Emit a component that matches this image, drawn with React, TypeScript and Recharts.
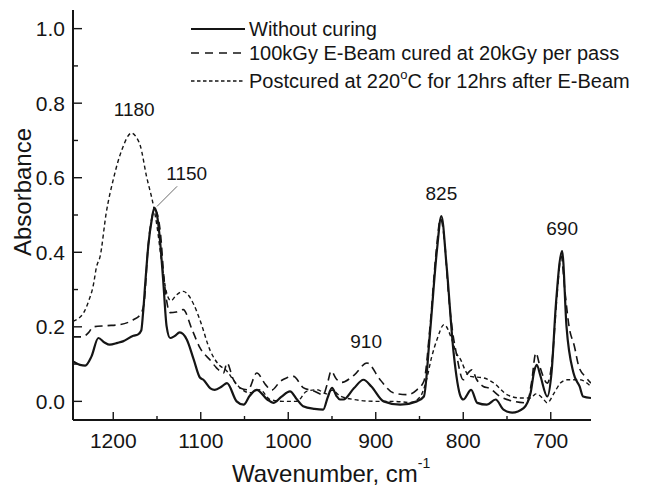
import React from 'react';
import { LineChart, Line, XAxis, YAxis, Legend, ReferenceDot, ReferenceLine, Label } from 'recharts';

// ---- Data ----
const seriesNames = [
  'Without curing',
  '100kGy E-Beam cured at 20kGy per pass',
  'Postcured at 220',
];

const withoutCuringWave = [1246, 1238, 1232, 1225, 1217, 1210, 1204, 1195, 1189, 1177, 1172, 1168, 1166, 1163, 1160, 1156, 1153, 1150, 1147, 1143, 1139, 1135, 1130, 1124, 1116, 1108, 1101, 1097, 1089, 1084, 1076, 1070, 1059, 1051, 1044, 1036, 1024, 1017, 1008, 998, 990, 983, 970, 960, 955, 950, 945, 941, 937, 925, 914, 905, 891, 872, 853, 845, 838, 830, 825, 819, 811, 803, 800, 791, 784, 773, 763, 754, 744, 731, 723, 719, 716, 712, 704, 699, 694, 687, 682, 674, 667, 663, 654];
const withoutCuringAbs = [0.107, 0.098, 0.096, 0.12, 0.17, 0.158, 0.152, 0.157, 0.161, 0.176, 0.179, 0.19, 0.235, 0.33, 0.416, 0.488, 0.519, 0.5, 0.443, 0.327, 0.201, 0.17, 0.175, 0.185, 0.166, 0.112, 0.064, 0.058, 0.035, 0.031, 0.04, 0.049, 0.0, -0.009, 0.015, 0.031, 0.005, -0.004, 0.012, 0.027, 0.005, -0.013, -0.02, -0.022, 0.01, 0.036, 0.015, 0.005, 0.005, 0.035, 0.058, 0.04, 0.0, -0.009, 0.0, 0.013, 0.184, 0.407, 0.497, 0.362, 0.13, 0.013, 0.005, 0.031, -0.004, -0.009, 0.005, -0.022, -0.03, -0.018, 0.023, 0.08, 0.098, 0.07, 0.013, 0.08, 0.264, 0.403, 0.201, 0.076, 0.04, 0.013, 0.009];

const eBeamWave = [1246, 1235, 1228, 1223, 1208, 1192, 1177, 1169, 1165, 1160, 1156, 1153, 1150, 1146, 1142, 1139, 1135, 1128, 1120, 1110, 1101, 1089, 1082, 1074, 1070, 1063, 1055, 1046, 1036, 1026, 1019, 1009, 1002, 994, 983, 971, 960, 955, 951, 945, 939, 925, 910, 895, 880, 864, 853, 845, 838, 831, 826, 821, 817, 813, 808, 800, 795, 790, 785, 777, 770, 758, 742, 727, 722, 717, 712, 704, 698, 693, 688, 684, 679, 673, 668, 660, 654];
const eBeamAbs = [0.173, 0.173, 0.185, 0.2, 0.203, 0.206, 0.219, 0.233, 0.26, 0.42, 0.49, 0.515, 0.505, 0.45, 0.33, 0.27, 0.238, 0.24, 0.246, 0.193, 0.144, 0.11, 0.09, 0.076, 0.103, 0.06, 0.036, 0.031, 0.076, 0.045, 0.03, 0.054, 0.063, 0.067, 0.037, 0.028, 0.018, 0.05, 0.081, 0.06, 0.051, 0.07, 0.103, 0.058, 0.023, 0.018, 0.031, 0.054, 0.2, 0.4, 0.49, 0.42, 0.291, 0.201, 0.13, 0.058, 0.075, 0.085, 0.06, 0.04, 0.035, 0.013, 0.0, -0.004, 0.05, 0.13, 0.09, 0.049, 0.12, 0.28, 0.39, 0.3, 0.2, 0.148, 0.094, 0.065, 0.049];

const postcuredWave = [1246, 1240, 1234, 1228, 1223, 1219, 1215, 1208, 1200, 1190, 1179, 1174, 1169, 1162, 1154, 1150, 1145, 1139, 1134, 1128, 1120, 1116, 1108, 1101, 1089, 1080, 1070, 1063, 1055, 1044, 1032, 1021, 1006, 990, 979, 967, 956, 950, 941, 925, 900, 880, 860, 849, 842, 836, 830, 822, 813, 808, 803, 797, 792, 777, 765, 750, 735, 723, 717, 714, 708, 704, 696, 689, 681, 667, 654];
const postcuredAbs = [0.215, 0.222, 0.237, 0.27, 0.309, 0.362, 0.389, 0.506, 0.595, 0.676, 0.72, 0.71, 0.685, 0.604, 0.524, 0.47, 0.38, 0.291, 0.27, 0.285, 0.295, 0.29, 0.26, 0.219, 0.135, 0.1, 0.081, 0.058, 0.036, 0.023, 0.031, 0.005, 0.0, 0.0, 0.027, 0.031, 0.02, 0.03, 0.015, 0.005, 0.0, 0.0, -0.003, 0.013, 0.058, 0.12, 0.166, 0.206, 0.166, 0.13, 0.112, 0.08, 0.067, 0.063, 0.049, 0.018, 0.009, 0.009, 0.02, 0.018, 0.005, -0.004, 0.023, 0.049, 0.058, 0.058, 0.04];

const peakLabels = ['1180', '1150', '910', '825', '690'];
const peakLabelWave = [1176, 1116, 911, 825, 687];
const peakLabelAbs = [0.783, 0.613, 0.162, 0.559, 0.465];

const xTicks = [1200, 1150, 1100, 1050, 1000, 950, 900, 850, 800, 750, 700];
const yTicks = [0, 0.1, 0.2, 0.3, 0.4, 0.5, 0.6, 0.7, 0.8, 0.9, 1.0];

const toPoints = (w: number[], a: number[]) => w.map((x, i) => ({ w: x, a: a[i] }));
const withoutCuringData = toPoints(withoutCuringWave, withoutCuringAbs);
const eBeamData = toPoints(eBeamWave, eBeamAbs);
const postcuredData = toPoints(postcuredWave, postcuredAbs);

const INK = '#151515';
const FONT = 'Liberation Sans, Arial, sans-serif';

const XTick = (props: any) => {
  const { x, y, payload } = props;
  const v = payload.value;
  const major = v % 100 === 0;
  return (
    <g>
      <line x1={x} x2={x} y1={y} y2={y - (major ? 8 : 4)} stroke={INK} strokeWidth={1.4} />
      {major && (
        <text x={x} y={y + 28} textAnchor="middle" fontSize={21} fontFamily={FONT} fill={INK}>
          {v}
        </text>
      )}
    </g>
  );
};

const YTick = (props: any) => {
  const { x, y, payload } = props;
  const v = payload.value;
  const major = Math.round(v * 10) % 2 === 0;
  return (
    <g>
      <line x1={x} x2={x + (major ? 9 : 5)} y1={y} y2={y} stroke={INK} strokeWidth={1.4} />
      {major && (
        <text x={x - 8} y={y} dy="0.36em" textAnchor="end" fontSize={21} fontFamily={FONT} fill={INK}>
          {v.toFixed(1)}
        </text>
      )}
    </g>
  );
};

const legendRows = [29, 53, 81];
const legendDash = [undefined, '8 6', '3.5 2.5'];
const legendWidth = [2.2, 1.6, 1.4];

const LegendBox = () => (
  <svg width={649} height={100} style={{ display: 'block' }}>
    {seriesNames.map((name, i) => (
      <g key={name}>
        <line x1={191} x2={245} y1={legendRows[i]} y2={legendRows[i]} stroke={INK} strokeWidth={legendWidth[i]} strokeDasharray={legendDash[i]} />
        <text x={249} y={legendRows[i] + 7} fontSize={20} fontFamily={FONT} fill={INK}>
          {name}
          {i === 2 && (
            <>
              <tspan dy={-9} fontSize={13}>o</tspan>
              <tspan dy={9}>C for 12hrs after E-Beam</tspan>
            </>
          )}
        </text>
      </g>
    ))}
  </svg>
);

export default function App() {
  return (
    <div style={{ position: 'absolute', left: 0, top: 0, background: '#fff' }}>
      <LineChart width={649} height={492} margin={{ top: 10, right: 58, bottom: 0, left: 0 }}>
        <XAxis
          dataKey="w"
          type="number"
          domain={[654, 1246]}
          reversed
          allowDataOverflow
          ticks={xTicks}
          tick={XTick}
          tickLine={false}
          tickSize={0}
          tickMargin={0}
          height={72}
          axisLine={{ stroke: INK, strokeWidth: 2 }}
          interval={0}
        >
          <Label
            content={() => (
              <text x={232} y={482} fontSize={24} fontFamily={FONT} fill={INK}>
                Wavenumber, cm
                <tspan dy={-14} fontSize={14}>-1</tspan>
              </text>
            )}
          />
        </XAxis>
        <YAxis
          type="number"
          domain={[-0.05, 1.05]}
          allowDataOverflow
          ticks={yTicks}
          tick={YTick}
          tickLine={false}
          tickSize={0}
          tickMargin={0}
          width={73}
          axisLine={{ stroke: INK, strokeWidth: 2 }}
          interval={0}
        >
          <Label
            content={() => (
              <text transform="translate(31,192) rotate(-90)" textAnchor="middle" fontSize={24} fontFamily={FONT} fill={INK}>
                Absorbance
              </text>
            )}
          />
        </YAxis>
        <Legend
          verticalAlign="middle"
          align="center"
          layout="horizontal"
          wrapperStyle={{ position: 'absolute', left: 0, top: 0, width: 649, height: 100, pointerEvents: 'none' }}
          content={() => <LegendBox />}
        />
        <Line data={postcuredData} dataKey="a" type="monotone" stroke={INK} strokeWidth={1.4} strokeDasharray="4 3" dot={false} activeDot={false} isAnimationActive={false} />
        <Line data={eBeamData} dataKey="a" type="monotone" stroke={INK} strokeWidth={1.6} strokeDasharray="8 5" dot={false} activeDot={false} isAnimationActive={false} />
        <Line data={withoutCuringData} dataKey="a" type="monotone" stroke={INK} strokeWidth={2.2} dot={false} activeDot={false} isAnimationActive={false} />
        <ReferenceLine segment={[{ x: 1150, y: 0.523 }, { x: 1127, y: 0.577 }]} stroke="#444" strokeWidth={0.8} />
        {peakLabels.map((lab, i) => (
          <ReferenceDot
            key={lab}
            x={peakLabelWave[i]}
            y={peakLabelAbs[i]}
            r={0}
            fill="none"
            stroke="none"
            label={{ value: lab, position: 'center', fontSize: 19, fontFamily: FONT, fill: INK }}
          />
        ))}
      </LineChart>
    </div>
  );
}
